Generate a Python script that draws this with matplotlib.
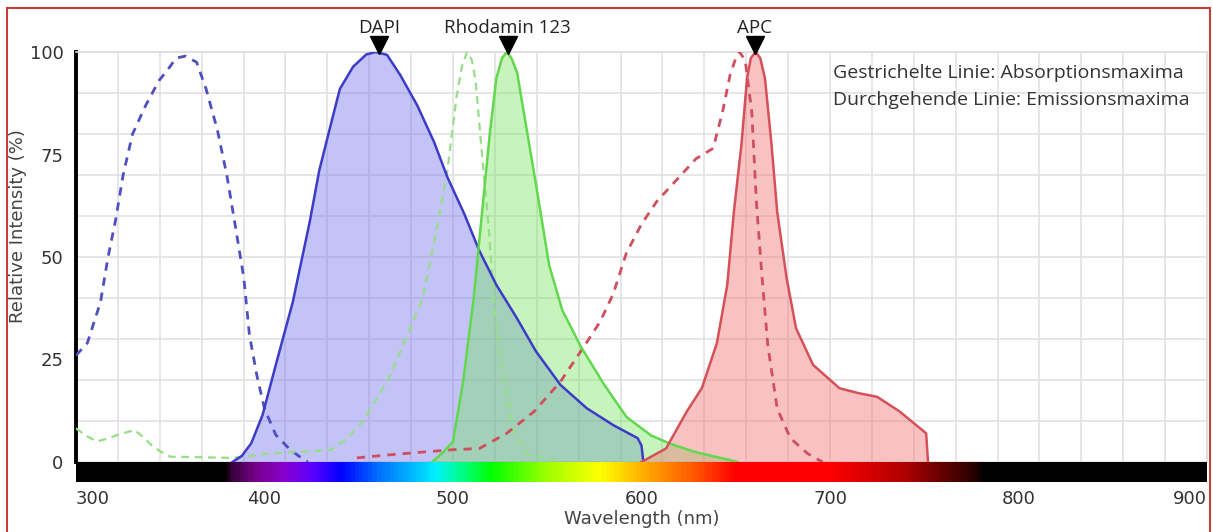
import numpy as np
import matplotlib
matplotlib.use("Agg")
import matplotlib.pyplot as plt
from matplotlib.patches import Rectangle
from matplotlib.colors import LinearSegmentedColormap, to_rgb

# ---------------- data ----------------
dyes = ["DAPI", "Rhodamin 123", "APC"]
peak_nm = [461, 529, 660]

dapi_abs_nm = [300, 306, 313, 317, 321, 325, 330, 337, 344, 350, 353, 358, 364, 369, 375, 380, 384, 389, 392, 396, 400, 406, 413, 418, 423]
dapi_abs = [26, 29, 39, 50, 59, 70, 80, 87, 93, 96.5, 98.5, 99, 97.5, 91, 81, 70, 59, 45, 31, 21, 13, 6.6, 3.3, 1.5, 0]

dapi_em_nm = [383, 388, 393, 399, 406, 415, 424, 429, 435, 440, 447, 454, 459, 465, 472, 481, 490, 497, 506, 514, 523, 534, 544, 557, 571, 585, 598, 600, 601]
dapi_em = [0, 1.5, 4.6, 11.5, 23.7, 39, 58.6, 71, 82, 91, 96.4, 99.4, 100, 99.3, 94.4, 87, 78, 69.5, 60.5, 51.5, 43.2, 35, 27, 18.8, 13.1, 9, 5.8, 4, 0]

rh_abs_nm = [300, 305, 311, 316, 322, 331, 336, 340, 345, 350, 383, 403, 420, 435, 444, 452, 465, 475, 484, 491, 497, 502, 505, 507.5, 510, 512, 515, 519, 522, 527, 532, 539, 548, 557]
rh_abs = [8.2, 6.5, 5, 5.6, 6.6, 7.8, 6, 4.1, 2.5, 1.3, 1, 2.1, 2.5, 2.9, 5.8, 9.8, 19.6, 30, 40, 56, 71, 89.5, 97, 100, 98, 93, 77, 57, 37, 20, 8, 2, 1, 0.5]

rh_em_nm = [489, 495, 500, 505.5, 511, 515, 519.5, 523, 526, 528.5, 531, 534, 539, 545, 551, 558, 568, 580, 592, 605, 615, 628, 640, 651]
rh_em = [0, 2.5, 5, 20, 40, 59, 80, 93.6, 98.5, 100, 98.5, 95, 81.4, 65, 48, 37, 28, 19, 11, 6.5, 4.5, 2.5, 1.2, 0]

apc_abs_nm = [449, 465, 486, 500, 514, 528.5, 543, 557, 570, 578, 585, 592, 600, 608, 619, 629, 638, 643, 647, 650, 652, 655, 658.5, 661, 664, 667, 672, 679, 688, 696]
apc_abs = [1, 1.7, 2.5, 3, 3.3, 7, 12.3, 19.6, 28.5, 34.2, 41, 51, 58, 63.5, 69, 74, 76.5, 85.4, 94.4, 98.5, 100, 98, 85.4, 63, 44.8, 28.5, 13, 5.8, 2.1, 0]

apc_em_nm = [600, 613, 624, 632, 640, 645.5, 649, 651, 653, 656, 658, 660.5, 663, 665.5, 669, 672, 677, 682, 691, 705, 715, 725, 737, 751, 752]
apc_em = [0, 3.3, 12.3, 18, 29, 43.2, 61, 69.2, 77.3, 93.6, 98.5, 100, 98.5, 93.6, 77.3, 61, 44.8, 32.6, 23.7, 18, 16.8, 15.9, 12.3, 7, 0]

x_ticks = [300, 400, 500, 600, 700, 800, 900]
y_ticks = [0, 25, 50, 75, 100]
legend_lines = ["Gestrichelte Linie: Absorptionsmaxima", "Durchgehende Linie: Emissionsmaxima"]

# ---------------- figure ----------------
W, H = 1213, 532
fig = plt.figure(figsize=(W / 100, H / 100), dpi=100)
fig.patch.set_facecolor("white")

ax_l, ax_r, ax_t, ax_b = 76, 1207, 52, 462
ax = fig.add_axes([ax_l / W, 1 - ax_b / H, (ax_r - ax_l) / W, (ax_b - ax_t) / H])
ax.set_xlim(300, 900)
ax.set_ylim(0, 100)

# grid
for gx in np.linspace(300, 900, 28):
    ax.axvline(gx, color="#e2e2e2", lw=1.2, zorder=0)
for gy in np.arange(0, 101, 10):
    ax.axhline(gy, color="#e2e2e2", lw=1.2, zorder=0)

# colours
blue_line, blue_fill, blue_dash = "#3c3cc8", "#7272ee", "#4f4fbf"
green_line, green_fill, green_dash = "#62d84e", "#74e45c", "#96de88"
red_line, red_fill, red_dash = "#d65058", "#f07878", "#cf4f5f"

# emission fills
ax.fill_between(dapi_em_nm, dapi_em, color=blue_fill, alpha=0.42, lw=0, zorder=2)
ax.fill_between(rh_em_nm, rh_em, color=green_fill, alpha=0.4, lw=0, zorder=2)
ax.fill_between(apc_em_nm, apc_em, color=red_fill, alpha=0.45, lw=0, zorder=2)

# emission lines
ax.plot(dapi_em_nm, dapi_em, color=blue_line, lw=1.8, zorder=4)
ax.plot(rh_em_nm, rh_em, color=green_line, lw=1.8, zorder=4)
ax.plot(apc_em_nm, apc_em, color=red_line, lw=1.8, zorder=4)

# absorption lines
ax.plot(dapi_abs_nm, dapi_abs, color=blue_dash, lw=2, ls=(0, (3, 2.5)), zorder=3)
ax.plot(rh_abs_nm, rh_abs, color=green_dash, lw=1.6, ls=(0, (3.5, 2.5)), zorder=3)
ax.plot(apc_abs_nm, apc_abs, color=red_dash, lw=2, ls=(0, (3, 2.5)), zorder=3)

# spines
for s in ["top", "right"]:
    ax.spines[s].set_color("#dcdcdc")
    ax.spines[s].set_linewidth(1.2)
ax.spines["bottom"].set_visible(False)
ax.spines["left"].set_color("black")
ax.spines["left"].set_linewidth(2.8)

ax.set_xticks([])
ax.set_yticks(y_ticks)
ax.set_yticklabels([str(v) for v in y_ticks], fontsize=13, color="#333333", family="DejaVu Sans")
ax.tick_params(axis="y", length=0, pad=9)
ax.set_ylabel("Relative Intensity (%)", fontsize=13, color="#444444", family="DejaVu Sans")
ax.yaxis.set_label_coords((27 - ax_l) / (ax_r - ax_l), (ax_b - 226) / (ax_b - ax_t))

# peak markers and dye labels
for name, pk in zip(dyes, peak_nm):
    ax.plot([pk], [101.8], marker="v", color="black", markersize=13, clip_on=False, zorder=6)
    ax.text(pk, 103.6, name, ha="center", va="bottom", fontsize=13.5, color="#222222",
            family="Open Sans", clip_on=False)

# legend text (placed in axes fraction)
lx = (833 - ax_l) / (ax_r - ax_l)
ax.text(lx, (ax_b - 73) / (ax_b - ax_t), legend_lines[0], transform=ax.transAxes,
        fontsize=14, color="#333333", family="Open Sans", va="center", ha="left")
ax.text(lx, (ax_b - 100) / (ax_b - ax_t), legend_lines[1], transform=ax.transAxes,
        fontsize=14, color="#333333", family="Open Sans", va="center", ha="left")

# spectrum bar
bar_t, bar_b = 462, 482
bax = fig.add_axes([ax_l / W, 1 - bar_b / H, (ax_r - ax_l) / W, (bar_b - bar_t) / H])
stops = [(300, "#000000"), (378, "#000000"), (382, "#3c003c"), (395, "#78008c"), (410, "#8a00d0"),
         (425, "#5a00ff"), (440, "#0000ff"), (460, "#0070ff"), (480, "#00c0ff"), (490, "#00f0ff"),
         (505, "#00ff80"), (520, "#00ff00"), (550, "#a0ff00"), (578, "#ffff00"), (605, "#ffa000"),
         (630, "#ff5000"), (650, "#ff0000"), (700, "#ff0000"), (740, "#b00000"), (778, "#250000"),
         (782, "#000000"), (900, "#000000")]
cmap = LinearSegmentedColormap.from_list(
    "spec", [((w - 300) / 600, to_rgb(c)) for w, c in stops])
grad = np.linspace(0, 1, 1200)[None, :]
bax.imshow(grad, aspect="auto", cmap=cmap, extent=[300, 900, 0, 1])
bax.set_xlim(300, 900)
bax.set_ylim(0, 1)
bax.set_yticks([])
bax.set_xticks(x_ticks)
bax.set_xticklabels([str(v) for v in x_ticks], fontsize=13, color="#333333", family="DejaVu Sans")
labs = bax.get_xticklabels()
labs[0].set_ha("left")
labs[-1].set_ha("right")
bax.tick_params(axis="x", length=0, pad=6)
for s in bax.spines.values():
    s.set_visible(False)
bax.set_xlabel("Wavelength (nm)", fontsize=13, color="#444444", family="DejaVu Sans", labelpad=1)

# outer red border
fig.patches.append(Rectangle((7 / W, -0.05), (1210 - 7) / W, 1.05 - 8 / H,
                             transform=fig.transFigure, fill=False, edgecolor="#c83c3c",
                             lw=1.5, zorder=10))

fig.savefig("out.png", dpi=100)
